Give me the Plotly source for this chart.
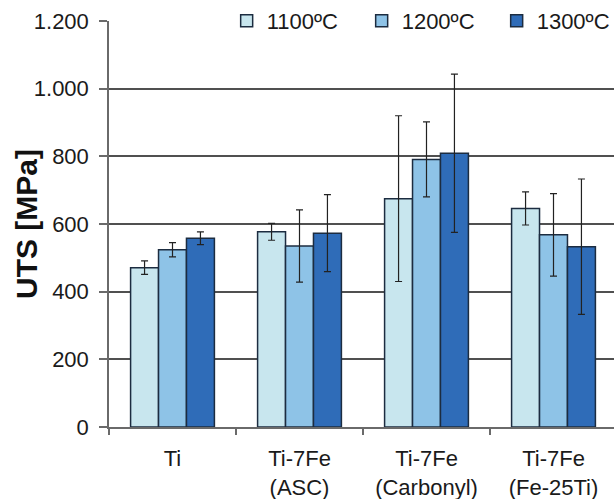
import plotly.graph_objects as go

# Alloy categories (two-line tick labels) and sintering temperatures
categories = ["Ti", "Ti-7Fe<br>(ASC)", "Ti-7Fe<br>(Carbonyl)", "Ti-7Fe<br>(Fe-25Ti)"]
temperatures = ["1100ºC", "1200ºC", "1300ºC"]

# Ultimate tensile strength (MPa) and standard deviation per temperature
uts_1100 = [471, 577, 675, 646]
uts_1200 = [524, 535, 791, 568]
uts_1300 = [558, 573, 809, 533]
err_1100 = [20, 25, 245, 49]
err_1200 = [21, 107, 111, 122]
err_1300 = [19, 114, 234, 200]

y_tickvals = [0, 200, 400, 600, 800, 1000, 1200]
y_ticktext = ["0", "200", "400", "600", "800", "1.000", "1.200"]

colors = ["#c8e6ee", "#8ec3e7", "#2f6cb8"]
outline = "#1c2c40"
font_family = "Liberation Sans, Arial, sans-serif"

fig = go.Figure()
for name, vals, errs, col in zip(
    temperatures,
    [uts_1100, uts_1200, uts_1300],
    [err_1100, err_1200, err_1300],
    colors,
):
    fig.add_trace(
        go.Bar(
            x=categories,
            y=vals,
            name=name,
            marker=dict(color=col, line=dict(color=outline, width=1.5)),
            error_y=dict(
                type="data",
                array=errs,
                visible=True,
                color="#222222",
                thickness=1.2,
                width=3.5,
            ),
        )
    )

plot_left, plot_width = 109, 505

fig.update_layout(
    width=614,
    height=499,
    margin=dict(l=plot_left, r=0, t=21, b=72, autoexpand=False),
    paper_bgcolor="white",
    plot_bgcolor="white",
    barmode="group",
    bargap=0.34,
    bargroupgap=0,
    font=dict(family=font_family, size=22, color="#1a1a1a"),
    showlegend=True,
    legend=dict(
        orientation="h",
        x=0.233,
        xanchor="left",
        y=1.0,
        yanchor="middle",
        bgcolor="white",
        borderwidth=0,
        font=dict(size=22, color="#1a1a1a"),
        entrywidth=90,
        entrywidthmode="pixels",
        traceorder="normal",
        itemclick=False,
    ),
    annotations=[
        dict(
            text="<b>UTS [MPa]</b>",
            textangle=-90,
            xref="paper",
            yref="paper",
            x=(26 - plot_left) / plot_width,
            y=0.5,
            xanchor="center",
            yanchor="middle",
            showarrow=False,
            font=dict(size=30, color="#111111"),
        )
    ],
)

fig.update_xaxes(
    type="category",
    range=[-0.5, 3.5 - 3 / 127],
    showline=True,
    linecolor="#6a6a6a",
    linewidth=1.5,
    ticks="outside",
    tickson="boundaries",
    ticklen=6,
    tickcolor="#6a6a6a",
    tickwidth=1.5,
    showgrid=False,
    tickfont=dict(size=22),
    ticklabelstandoff=11,
)

fig.update_yaxes(
    range=[0, 1200],
    tickvals=y_tickvals,
    ticktext=y_ticktext,
    showline=True,
    linecolor="#6a6a6a",
    linewidth=1.5,
    ticks="outside",
    ticklen=8,
    tickcolor="#6a6a6a",
    tickwidth=1.5,
    showgrid=True,
    gridcolor="#505050",
    gridwidth=1.5,
    zeroline=False,
    tickfont=dict(size=22),
    ticklabelstandoff=6,
)

fig.write_html("out.html")
